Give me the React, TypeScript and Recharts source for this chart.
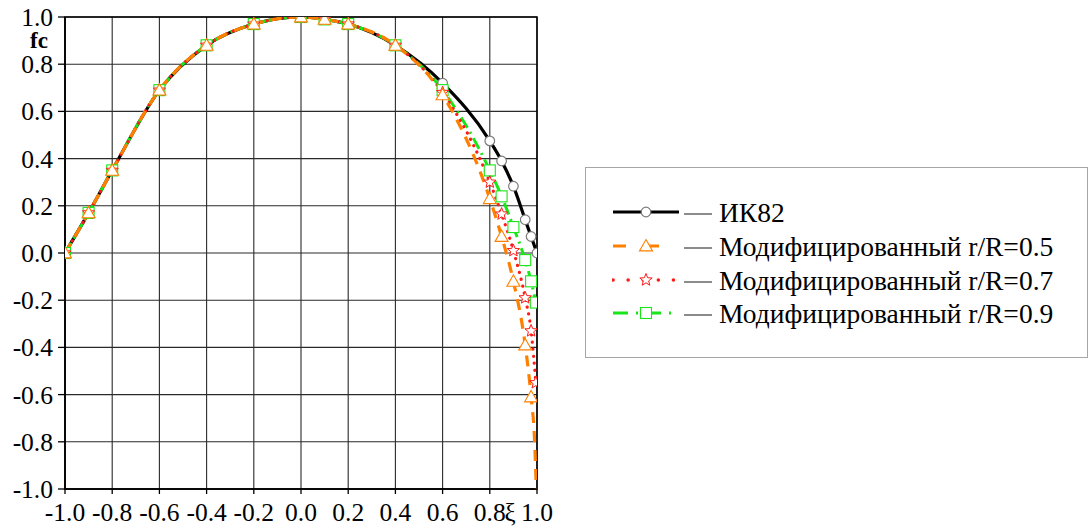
import { LineChart, Line, XAxis, YAxis, CartesianGrid, Legend, ReferenceArea, Label } from 'recharts';

// shared part of all curves (markers coincide from -1.0 to 0.4)
const xiLeft = [-1.0, -0.9, -0.8, -0.6, -0.4, -0.2, 0.0, 0.1, 0.2, 0.4];
const fcLeft = [0.0, 0.17, 0.35, 0.69, 0.88, 0.97, 1.0, 0.99, 0.97, 0.88];

// right-hand tails, where the curves split
const xiIK82 = [0.6, 0.8, 0.85, 0.9, 0.95, 0.975, 1.0];
const fcIK82 = [0.72, 0.475, 0.39, 0.283, 0.141, 0.07, 0.0];

const xiR05 = [0.6, 0.8, 0.85, 0.9, 0.95, 0.975];
const fcR05 = [0.67, 0.23, 0.07, -0.12, -0.39, -0.61];
const xiR05End = [0.99, 0.997];
const fcR05End = [-0.8, -1.0];

const xiR07 = [0.6, 0.8, 0.85, 0.9, 0.95, 0.975, 0.995];
const fcR07 = [0.68, 0.3, 0.165, 0.01, -0.19, -0.33, -0.55];

const xiR09 = [0.6, 0.8, 0.85, 0.9, 0.95, 0.975, 0.995];
const fcR09 = [0.69, 0.35, 0.24, 0.11, -0.03, -0.12, -0.21];

const ticks = [-1.0, -0.8, -0.6, -0.4, -0.2, 0.0, 0.2, 0.4, 0.6, 0.8, 1.0];

const seriesNames = ['ИК82', 'Модифицированный r/R=0.5', 'Модифицированный r/R=0.7', 'Модифицированный r/R=0.9'];

const pts = (xs: number[], ys: number[], mark = true) => xs.map((x, i) => ({ xi: x, fc: ys[i], mark }));

const dataIK82 = [...pts(xiLeft, fcLeft), ...pts(xiIK82, fcIK82)];
const dataR05 = [...pts(xiLeft, fcLeft), ...pts(xiR05, fcR05), ...pts(xiR05End, fcR05End, false)];
const dataR07 = [...pts(xiLeft, fcLeft), ...pts(xiR07, fcR07)];
const dataR09 = [...pts(xiLeft, fcLeft), ...pts(xiR09, fcR09)];

const FONT = '"Liberation Serif", "Times New Roman", serif';

const ORANGE = '#ff8000';
const RED = '#ff1a1a';
const GREEN = '#19e619';

type Kind = 'circle' | 'triangle' | 'star' | 'square';

function Marker({ kind, cx, cy }: { kind: Kind; cx: number; cy: number }) {
    if (kind === 'circle') {
        return <circle cx={cx} cy={cy} r={4.8} fill="#fff" stroke="#7a7a7a" strokeWidth={1.2} />;
    }
    if (kind === 'triangle') {
        const s = 6.5;
        return (
            <polygon
                points={`${cx},${cy - s} ${cx + s},${cy + s * 0.75} ${cx - s},${cy + s * 0.75}`}
                fill="#fff"
                stroke={ORANGE}
                strokeWidth={1.1}
            />
        );
    }
    if (kind === 'square') {
        return <rect x={cx - 5.5} y={cy - 5.5} width={11} height={11} fill="#fff" stroke={GREEN} strokeWidth={1.1} />;
    }
    // star
    const p: string[] = [];
    for (let i = 0; i < 10; i++) {
        const r = i % 2 === 0 ? 6.5 : 2.8;
        const a = -Math.PI / 2 + (i * Math.PI) / 5;
        p.push(`${cx + r * Math.cos(a)},${cy + r * Math.sin(a)}`);
    }
    return <polygon points={p.join(' ')} fill="#fff" stroke={RED} strokeWidth={1} />;
}

const makeDot = (kind: Kind) => (props: any) => {
    const { cx, cy, payload, index } = props;
    if (!payload || !payload.mark || cx == null || cy == null) return <g key={`d-${kind}-${index}`} />;
    return (
        <g key={`d-${kind}-${index}`}>
            <Marker kind={kind} cx={cx} cy={cy} />
        </g>
    );
};

const legendRows = [
    { name: seriesNames[0], stroke: '#000', dash: undefined, kind: 'circle' as Kind, width: 3 },
    { name: seriesNames[1], stroke: ORANGE, dash: '13 20', kind: 'triangle' as Kind, width: 3 },
    { name: seriesNames[2], stroke: RED, dash: '0.1 15', kind: 'star' as Kind, width: 3.5 },
    { name: seriesNames[3], stroke: GREEN, dash: '15 8 2 8', kind: 'square' as Kind, width: 3 },
];

function LegendBox() {
    return (
        <div
            style={{
                position: 'relative',
                width: 503,
                height: 191,
                boxSizing: 'border-box',
                border: '1.5px solid #a6a6a6',
                background: '#fff',
                fontFamily: FONT,
            }}
        >
            {legendRows.map((r, i) => (
                <div key={r.name} style={{ position: 'absolute', left: 0, top: 28 + i * 33.8, height: 34, width: '100%' }}>
                    <svg width={110} height={34} style={{ position: 'absolute', left: 26, top: 0 }}>
                        <line
                            x1={1}
                            x2={67}
                            y1={16}
                            y2={16}
                            stroke={r.stroke}
                            strokeWidth={r.width}
                            strokeDasharray={r.dash}
                            strokeLinecap={r.kind === 'star' ? 'round' : 'butt'}
                        />
                        <Marker kind={r.kind} cx={34} cy={16} />
                        <line x1={72} x2={100} y1={18} y2={18} stroke="#6e6e6e" strokeWidth={1.6} />
                    </svg>
                    <span
                        style={{
                            position: 'absolute',
                            left: 133,
                            top: 0,
                            lineHeight: '34px',
                            fontSize: 27.5,
                            fontFamily: FONT,
                            color: '#000',
                            whiteSpace: 'nowrap',
                        }}
                    >
                        {r.name}
                    </span>
                </div>
            ))}
        </div>
    );
}

const tickStyle = { fill: '#000', fontSize: 25.5, fontFamily: FONT };

export default function App() {
    return (
        <div style={{ position: 'absolute', left: 0, top: 0, width: 1090, height: 527, background: '#fff', fontFamily: FONT }}>
            <LineChart width={1090} height={527} margin={{ top: 17, right: 553, bottom: 0, left: 0 }}>
                <CartesianGrid stroke="#2a2a2a" strokeWidth={1.1} />
                <XAxis
                    type="number"
                    dataKey="xi"
                    domain={[-1, 1]}
                    ticks={ticks}
                    tickFormatter={(v: number) => v.toFixed(1)}
                    tick={tickStyle}
                    axisLine={{ stroke: '#000', strokeWidth: 1.5 }}
                    tickLine={{ stroke: '#000', strokeWidth: 1.3 }}
                    tickSize={5}
                    tickMargin={9}
                    height={38}
                    interval={0}
                    allowDataOverflow
                >
                    <Label
                        content={(p: any) => {
                            const vb = p.viewBox || { x: 65, y: 489, width: 472 };
                            return (
                                <text x={vb.x + vb.width - 27} y={vb.y + 32} textAnchor="middle" fontSize={25} fontFamily={FONT} fill="#000">
                                    ξ
                                </text>
                            );
                        }}
                    />
                </XAxis>
                <YAxis
                    type="number"
                    domain={[-1, 1]}
                    ticks={ticks}
                    tickFormatter={(v: number) => v.toFixed(1)}
                    tick={tickStyle}
                    axisLine={{ stroke: '#000', strokeWidth: 1.5 }}
                    tickLine={{ stroke: '#000', strokeWidth: 1.3 }}
                    tickSize={7}
                    tickMargin={5}
                    width={65}
                    interval={0}
                    allowDataOverflow
                >
                    <Label
                        content={(p: any) => {
                            const vb = p.viewBox || { x: 0, y: 17 };
                            return (
                                <text x={vb.x + 39} y={vb.y + 31} textAnchor="middle" fontSize={23} fontWeight="bold" fontFamily={FONT} fill="#000">
                                    fc
                                </text>
                            );
                        }}
                    />
                </YAxis>
                <ReferenceArea x1={-1} x2={1} y1={-1} y2={1} fill="none" stroke="#000" strokeWidth={1.5} />

                {/* ИК82 */}
                <Line
                    data={dataIK82}
                    dataKey="fc"
                    name={seriesNames[0]}
                    type="monotone"
                    stroke="#000"
                    strokeWidth={3.2}
                    dot={makeDot('circle')}
                    activeDot={false}
                    isAnimationActive={false}
                />
                {/* r/R = 0.9 */}
                <Line
                    data={dataR09}
                    dataKey="fc"
                    name={seriesNames[3]}
                    type="monotone"
                    stroke={GREEN}
                    strokeWidth={3}
                    strokeDasharray="12 5 2 5"
                    dot={makeDot('square')}
                    activeDot={false}
                    isAnimationActive={false}
                />
                {/* r/R = 0.7 */}
                <Line
                    data={dataR07}
                    dataKey="fc"
                    name={seriesNames[2]}
                    type="monotone"
                    stroke={RED}
                    strokeWidth={3.2}
                    strokeDasharray="0.1 7"
                    strokeLinecap="round"
                    dot={makeDot('star')}
                    activeDot={false}
                    isAnimationActive={false}
                />
                {/* r/R = 0.5 */}
                <Line
                    data={dataR05}
                    dataKey="fc"
                    name={seriesNames[1]}
                    type="monotone"
                    stroke={ORANGE}
                    strokeWidth={3.2}
                    strokeDasharray="11 8"
                    dot={makeDot('triangle')}
                    activeDot={false}
                    isAnimationActive={false}
                />
                <Legend
                    layout="vertical"
                    align="center"
                    verticalAlign="middle"
                    content={() => <LegendBox />}
                    wrapperStyle={{ left: 585, top: 167, width: 503, height: 191 }}
                />
            </LineChart>
        </div>
    );
}
